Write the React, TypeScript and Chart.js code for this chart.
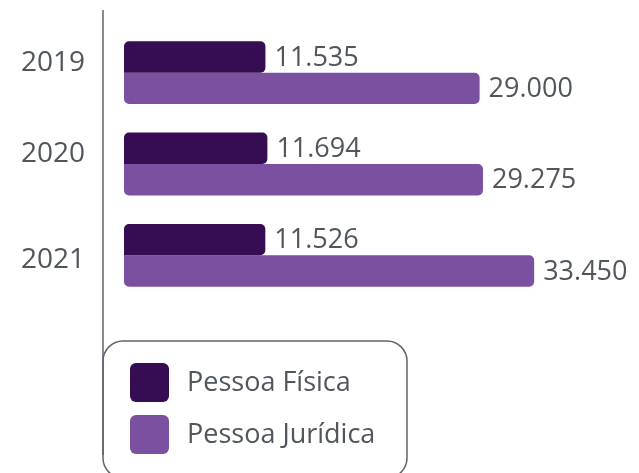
import React, { useEffect, useRef } from "react";
import { Chart, registerables } from "chart.js";

Chart.register(...registerables);

const categories = ["2019", "2020", "2021"];
const pessoaFisica = [11535, 11694, 11526];
const pessoaJuridica = [29000, 29275, 33450];
const seriesLabels = ["Pessoa Física", "Pessoa Jurídica"];
const seriesColors = ["#360c52", "#7b50a0"];
// vertical nudge of each category label relative to its bar group (layout only)
const labelNudge = [-10, -9.5, 5];

const FONT = "'Open Sans', 'Noto Sans', sans-serif";
const TEXT_COLOR = "#50555e";
const LINE_COLOR = "#5f636b";

const fmt = (v: number) => String(Math.round(v)).replace(/\B(?=(\d{3})+(?!\d))/g, ".");

const valueLabelPlugin = {
  id: "valueLabels",
  afterDatasetsDraw(chart: any) {
    const ctx = chart.ctx;
    ctx.save();
    ctx.font = `27px ${FONT}`;
    ctx.fillStyle = TEXT_COLOR;
    ctx.textAlign = "left";
    ctx.textBaseline = "middle";
    chart.data.datasets.forEach((ds: any, di: number) => {
      const meta = chart.getDatasetMeta(di);
      meta.data.forEach((bar: any, i: number) => {
        ctx.fillText(fmt(ds.data[i]), bar.x + 9, bar.y + 1);
      });
    });
    ctx.restore();
  },
};

const categoryLabelPlugin = {
  id: "categoryLabels",
  afterDraw(chart: any) {
    const ctx = chart.ctx;
    const yScale = chart.scales.y;
    ctx.save();
    ctx.font = `28px ${FONT}`;
    ctx.fillStyle = TEXT_COLOR;
    ctx.textAlign = "right";
    ctx.textBaseline = "middle";
    chart.data.labels.forEach((lab: string, i: number) => {
      ctx.fillText(lab, chart.chartArea.left - 18, yScale.getPixelForTick(i) + (labelNudge[i] || 0));
    });
    ctx.restore();
  },
};

const roundRect = (ctx: any, x: number, y: number, w: number, h: number, r: number) => {
  ctx.beginPath();
  ctx.moveTo(x + r, y);
  ctx.lineTo(x + w - r, y);
  ctx.arcTo(x + w, y, x + w, y + r, r);
  ctx.lineTo(x + w, y + h - r);
  ctx.arcTo(x + w, y + h, x + w - r, y + h, r);
  ctx.lineTo(x + r, y + h);
  ctx.arcTo(x, y + h, x, y + h - r, r);
  ctx.lineTo(x, y + r);
  ctx.arcTo(x, y, x + r, y, r);
  ctx.closePath();
};

const frameLegendPlugin = {
  id: "frameLegend",
  afterDraw(chart: any) {
    const ctx = chart.ctx;
    const left = chart.chartArea.left;
    ctx.save();
    ctx.strokeStyle = LINE_COLOR;
    ctx.lineWidth = 1.5;
    ctx.beginPath();
    ctx.moveTo(left, 10);
    ctx.lineTo(left, 455);
    ctx.stroke();
    roundRect(ctx, left, 341, 304, 137, 20);
    ctx.stroke();
    ctx.font = `27px ${FONT}`;
    ctx.textAlign = "left";
    ctx.textBaseline = "middle";
    chart.data.datasets.forEach((ds: any, i: number) => {
      const y = 363 + i * 52;
      ctx.fillStyle = ds.backgroundColor;
      roundRect(ctx, 130, y, 39, 39, 6);
      ctx.fill();
      ctx.fillStyle = TEXT_COLOR;
      ctx.fillText(ds.label, 187, y + 20);
    });
    ctx.restore();
  },
};

export default function App() {
  const ref = useRef<HTMLCanvasElement>(null);
  useEffect(() => {
    if (!ref.current) return;
    const chart = new Chart(ref.current, {
      type: "bar",
      data: {
        labels: categories,
        datasets: [
          {
            label: seriesLabels[0],
            data: pessoaFisica,
            backgroundColor: seriesColors[0],
            borderRadius: { topLeft: 5, topRight: 5, bottomRight: 5, bottomLeft: 0 },
            borderSkipped: false,
            categoryPercentage: 0.688,
            barPercentage: 1,
          },
          {
            label: seriesLabels[1],
            data: pessoaJuridica,
            backgroundColor: seriesColors[1],
            borderRadius: { topLeft: 0, topRight: 5, bottomRight: 5, bottomLeft: 5 },
            borderSkipped: false,
            categoryPercentage: 0.688,
            barPercentage: 1,
          },
        ],
      },
      options: {
        indexAxis: "y",
        animation: false,
        responsive: false,
        maintainAspectRatio: false,
        layout: { padding: { top: 27, bottom: 172, left: 0, right: 0 } },
        plugins: {
          legend: { display: false },
          tooltip: { enabled: false },
        },
        scales: {
          x: {
            display: false,
            min: -1713,
            max: 42000,
          },
          y: {
            grid: { display: false, drawTicks: false },
            border: { display: false },
            ticks: { display: false },
            afterFit: (scale: any) => {
              scale.width = 103;
              scale.paddingTop = 0;
              scale.paddingBottom = 0;
            },
          },
        },
      },
      plugins: [valueLabelPlugin, categoryLabelPlugin, frameLegendPlugin],
    });
    return () => chart.destroy();
  }, []);
  return (
    <div style={{ position: "fixed", left: 0, top: 0, width: 639, height: 473, background: "#fff" }}>
      <canvas ref={ref} width={639} height={473} style={{ display: "block" }} />
    </div>
  );
}
